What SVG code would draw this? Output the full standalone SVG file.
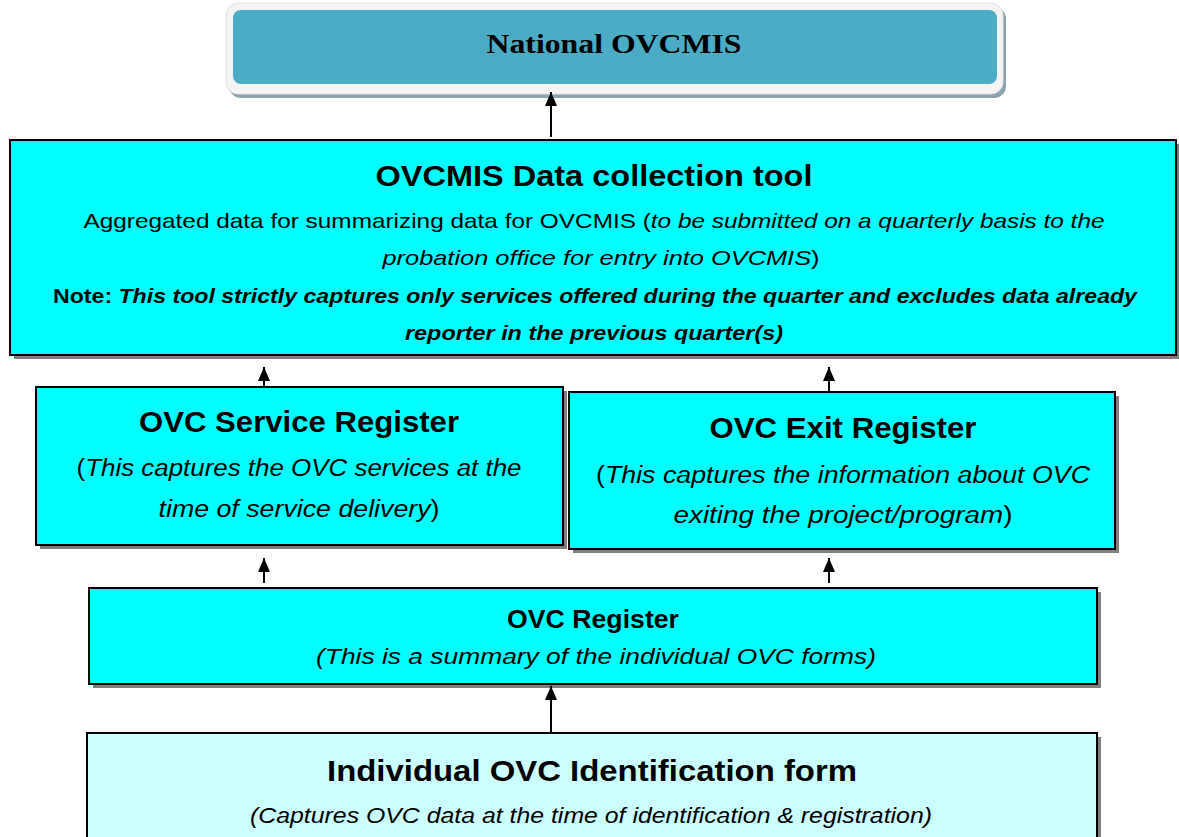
<svg xmlns="http://www.w3.org/2000/svg" width="1179" height="837" viewBox="0 0 1179 837">
<style>
.box{stroke:#000;stroke-width:2}
.sh{fill:#7f7f7f}
.t{font-family:"Liberation Sans",Arial,sans-serif;fill:#000;text-anchor:middle}
.b{font-weight:bold}
.i{font-style:italic}
.conn{stroke:#000;stroke-width:2;fill:none;marker-end:url(#ah)}
</style>
<defs>
<marker id="ah" markerWidth="14" markerHeight="12" refX="14" refY="6" orient="auto" markerUnits="userSpaceOnUse" viewBox="0 0 14 12">
<path d="M0,0 L14,6 L0,12 Z" fill="#000"/>
</marker>
</defs>
<rect width="1179" height="837" fill="#fff"/>
<g id="national">
<rect x="229" y="7" width="777" height="91" rx="12" fill="#8aa3ae"/>
<rect x="226" y="3" width="777" height="91" rx="12" fill="#f4f4f4" stroke="#e2e2e2" stroke-width="1"/>
<rect x="233" y="10" width="764" height="74" rx="8" fill="#4bacc6"/>
<text class="t b" x="614" y="53" style="font-family:'Liberation Serif','Times New Roman',serif" font-size="27" textLength="255" lengthAdjust="spacingAndGlyphs">National OVCMIS</text>
</g>
<g id="tool">
<rect class="sh" x="14" y="144" width="1166" height="215"/>
<rect class="box" x="10" y="140" width="1166" height="215" fill="#00ffff"/>
<text class="t b" x="594" y="186" font-size="29" textLength="437" lengthAdjust="spacingAndGlyphs">OVCMIS Data collection tool</text>
<text class="t" x="594" y="228" font-size="21" textLength="1021" lengthAdjust="spacingAndGlyphs">Aggregated data for summarizing data for OVCMIS (<tspan class="i">to be submitted on a quarterly basis to the</tspan></text>
<text class="t" x="601" y="265" font-size="21" textLength="437" lengthAdjust="spacingAndGlyphs"><tspan class="i">probation office for entry into OVCMIS</tspan>)</text>
<text class="t b" x="595" y="303" font-size="21" textLength="1084" lengthAdjust="spacingAndGlyphs">Note: <tspan class="i">This tool strictly captures only services offered during the quarter and excludes data already</tspan></text>
<text class="t b i" x="594" y="340" font-size="21" textLength="378" lengthAdjust="spacingAndGlyphs">reporter in the previous quarter(s)</text>
</g>
<g id="service">
<rect class="sh" x="40" y="391" width="527" height="158"/>
<rect class="box" x="36" y="387" width="527" height="158" fill="#00ffff"/>
<text class="t b" x="299" y="432" font-size="29" textLength="320" lengthAdjust="spacingAndGlyphs">OVC Service Register</text>
<text class="t" x="299" y="476" font-size="23" textLength="445" lengthAdjust="spacingAndGlyphs">(<tspan class="i">This captures the OVC services at the</tspan></text>
<text class="t" x="299" y="517" font-size="23" textLength="281" lengthAdjust="spacingAndGlyphs"><tspan class="i">time of service delivery</tspan>)</text>
</g>
<g id="exit">
<rect class="sh" x="573" y="396" width="546" height="157"/>
<rect class="box" x="569" y="392" width="546" height="157" fill="#00ffff"/>
<text class="t b" x="843" y="438" font-size="29" textLength="267" lengthAdjust="spacingAndGlyphs">OVC Exit Register</text>
<text class="t" x="843" y="483" font-size="23" textLength="494" lengthAdjust="spacingAndGlyphs">(<tspan class="i">This captures the information about OVC</tspan></text>
<text class="t" x="843" y="523" font-size="23" textLength="339" lengthAdjust="spacingAndGlyphs"><tspan class="i">exiting the project/program</tspan>)</text>
</g>
<g id="register">
<rect class="sh" x="93" y="592" width="1008" height="96"/>
<rect class="box" x="89" y="588" width="1008" height="96" fill="#00ffff"/>
<text class="t b" x="593" y="628" font-size="25" textLength="172" lengthAdjust="spacingAndGlyphs">OVC Register</text>
<text class="t i" x="596" y="664" font-size="22" textLength="560" lengthAdjust="spacingAndGlyphs">(This is a summary of the individual OVC forms)</text>
</g>
<g id="individual">
<rect class="sh" x="91" y="737" width="1010" height="104"/>
<rect class="box" x="87" y="733" width="1010" height="110" fill="#ccffff"/>
<text class="t b" x="592" y="781" font-size="30" textLength="530" lengthAdjust="spacingAndGlyphs">Individual OVC Identification form</text>
<text class="t i" x="591" y="823" font-size="22" textLength="682" lengthAdjust="spacingAndGlyphs">(Captures OVC data at the time of identification &amp; registration)</text>
</g>
<g id="connectors">
<line class="conn" x1="551" y1="137" x2="551" y2="92"/>
<line class="conn" x1="264" y1="386" x2="264" y2="367"/>
<line class="conn" x1="829" y1="391" x2="829" y2="367"/>
<line class="conn" x1="264" y1="583" x2="264" y2="558"/>
<line class="conn" x1="829" y1="583" x2="829" y2="558"/>
<line class="conn" x1="551" y1="732" x2="551" y2="686"/>
</g>
</svg>
